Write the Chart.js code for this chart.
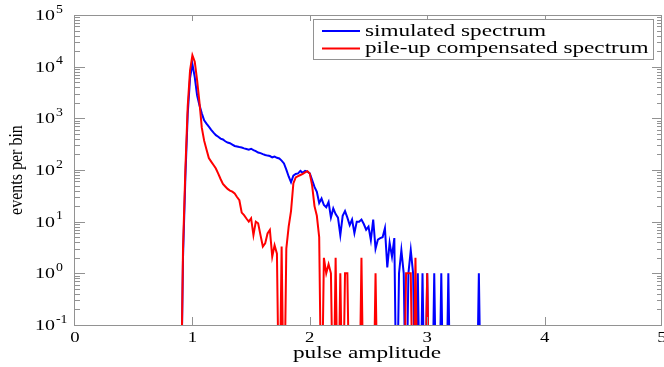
<!DOCTYPE html>
<html lang="en">
<head>
<meta charset="UTF-8">
<title>Pulse amplitude spectrum</title>
<script src="https://cdn.jsdelivr.net/npm/chart.js"></script>
<style>
  html, body { margin: 0; padding: 0; background: #fff; }
  #wrap { width: 664px; height: 367px; }
</style>
</head>
<body>
<div id="wrap"><canvas id="myChart"></canvas></div>
<script>
// bin centres (pulse amplitude)
const amplitude = [
  0.88, 0.90, 0.92, 0.94, 0.96, 0.98, 1.00, 1.02, 1.04, 1.06,
  1.08, 1.10, 1.12, 1.14, 1.16, 1.18, 1.20, 1.22, 1.24, 1.26,
  1.28, 1.30, 1.32, 1.34, 1.36, 1.38, 1.40, 1.42, 1.44, 1.46,
  1.48, 1.50, 1.52, 1.54, 1.56, 1.58, 1.60, 1.62, 1.64, 1.66,
  1.68, 1.70, 1.72, 1.74, 1.76, 1.78, 1.80, 1.82, 1.84, 1.86,
  1.88, 1.90, 1.92, 1.94, 1.96, 1.98, 2.00, 2.02, 2.04, 2.06,
  2.08, 2.10, 2.12, 2.14, 2.16, 2.18, 2.20, 2.22, 2.24, 2.26,
  2.28, 2.30, 2.32, 2.34, 2.36, 2.38, 2.40, 2.42, 2.44, 2.46,
  2.48, 2.50, 2.52, 2.54, 2.56, 2.58, 2.60, 2.62, 2.64, 2.66,
  2.68, 2.70, 2.72, 2.74, 2.76, 2.78, 2.80, 2.82, 2.84, 2.86,
  2.88, 2.90, 2.92, 2.94, 2.96, 2.98, 3.00, 3.02, 3.04, 3.06,
  3.08, 3.10, 3.12, 3.14, 3.16, 3.18, 3.20, 3.22, 3.24, 3.26,
  3.28, 3.30, 3.32, 3.34, 3.36, 3.38, 3.40, 3.42, 3.44, 3.46
];

// events per bin, simulated spectrum
const simulated = [
  0, 0, 2, 70, 1200, 6000, 11200, 6300, 2800, 1800,
  1250, 920, 790, 690, 600, 530, 473, 440, 405, 390,
  360, 340, 330, 310, 292, 285, 278, 272, 262, 255,
  248, 258, 243, 232, 218, 212, 203, 195, 190, 186,
  176, 182, 172, 167, 152, 134, 102, 75, 58, 78,
  84, 86, 96, 88, 96, 93, 86, 64, 47, 38,
  23, 28, 21, 19, 24, 12, 18, 14, 12, 5.5,
  13, 16, 12, 8.6, 11, 6, 10, 10, 11, 9,
  7, 8, 4.4, 11, 3, 4.5, 4.8, 5, 7.5, 1.3,
  3.9, 2.1, 4.8, 0, 1, 2.8, 1, 0, 1, 2.8,
  1, 0, 1, 0, 1, 0, 1, 0, 0, 1,
  0, 0, 1, 0, 0, 1, 0, 0, 0, 0,
  0, 0, 0, 0, 0, 0, 0, 0, 1, 0
];

// events per bin, pile-up compensated spectrum
const compensated = [
  0, 0, 3, 100, 1700, 8500, 16600, 12500, 5500, 2050,
  660, 370, 250, 170, 145, 125, 107, 85, 67, 54,
  48, 43, 40, 38, 35, 30, 26, 15, 13.4, 11.5,
  10, 11.6, 5.5, 10, 9.3, 5.5, 3.3, 3.8, 5.9, 6.9,
  2.1, 3.5, 2.4, 0, 3.3, 0, 3, 8, 16, 55,
  72, 76, 80, 84, 90, 95, 85, 50, 20, 13,
  5, 0, 2, 1, 1.5, 1, 0, 2, 0, 1,
  0, 1, 1, 0, 0, 0, 0, 0, 2, 0,
  0, 0, 0, 0, 1, 0, 0, 0, 0, 0,
  0, 0, 0, 0, 0, 0, 0, 1, 1, 1,
  0, 2, 0, 0, 0, 0, 1, 0, 0, 0,
  0, 0, 0, 0, 0, 0, 0, 0, 0, 0,
  0, 0, 0, 0, 0, 0, 0, 0, 0, 0
];

const seriesLabels = ['simulated spectrum', 'pile-up compensated spectrum'];
const xTicks = [0, 1, 2, 3, 4, 5];
const yTicks = [0.1, 1, 10, 100, 1000, 10000, 100000];
const yExponents = ['-1', '0', '1', '2', '3', '4', '5'];
const xTitle = 'pulse amplitude';
const yTitle = 'events per bin';

const serif = "'Liberation Serif', 'Times New Roman', serif";
const axisGrey = '#929292';
// empty bins fall off the bottom of the log axis
const emptyBin = 1e-3;

function toPoints(values) {
  return amplitude.map((a, i) => ({ x: a, y: values[i] > 0 ? values[i] : emptyBin }));
}

// the original figure has horizontally widened lettering
function wideText(ctx, text, x, y, sx, align) {
  ctx.save();
  ctx.translate(x, y);
  ctx.scale(sx, 1);
  ctx.textAlign = align || 'left';
  ctx.textBaseline = 'alphabetic';
  ctx.fillText(text, 0, 0);
  ctx.restore();
}

const framePlugin = {
  id: 'frame',
  afterDatasetsDraw(chart) {
    const ctx = chart.ctx;
    const a = chart.chartArea;
    const xs = chart.scales.x, ys = chart.scales.y;
    ctx.save();
    ctx.strokeStyle = axisGrey;
    ctx.lineWidth = 1;
    ctx.strokeRect(a.left - 0.5, a.top + 0.5, a.right - a.left, a.bottom - a.top);

    ctx.beginPath();
    // x ticks, inside, bottom and top
    xTicks.slice(1, -1).forEach(v => {
      const px = Math.round(xs.getPixelForValue(v)) + 0.5;
      ctx.moveTo(px, a.bottom); ctx.lineTo(px, a.bottom - 8);
      ctx.moveTo(px, a.top); ctx.lineTo(px, a.top + 6);
    });
    // y ticks, inside, left and right, with minor ticks
    yTicks.forEach((v, i) => {
      const py = Math.round(ys.getPixelForValue(v)) + 0.5;
      if (i > 0 && i < yTicks.length - 1) {
        ctx.moveTo(a.left, py); ctx.lineTo(a.left + 10, py);
        ctx.moveTo(a.right, py); ctx.lineTo(a.right - 10, py);
      }
      if (i < yTicks.length - 1) {
        for (let m = 2; m <= 9; m++) {
          const pm = Math.round(ys.getPixelForValue(v * m)) + 0.5;
          ctx.moveTo(a.left, pm); ctx.lineTo(a.left + 5, pm);
          ctx.moveTo(a.right, pm); ctx.lineTo(a.right - 5, pm);
        }
      }
    });
    ctx.stroke();
    ctx.restore();
  },
  afterDraw(chart) {
    const ctx = chart.ctx;
    const xs = chart.scales.x, ys = chart.scales.y;
    ctx.save();
    ctx.fillStyle = '#000';

    // x tick labels
    ctx.font = '15px ' + serif;
    xTicks.forEach(v => {
      wideText(ctx, String(v), xs.getPixelForValue(v), 342, 1.25, 'center');
    });

    // y tick labels as 10 with a raised exponent
    yTicks.forEach((v, i) => {
      const py = ys.getPixelForValue(v);
      ctx.font = '15px ' + serif;
      wideText(ctx, '10', 35, py + 5, 1.33);
      ctx.font = '12px ' + serif;
      wideText(ctx, yExponents[i], 56, py - 2.5, 1.15);
    });

    // axis titles
    ctx.font = '17px ' + serif;
    wideText(ctx, xTitle, 367, 358, 1.37, 'center');
    ctx.save();
    ctx.translate(22, 170);
    ctx.rotate(-Math.PI / 2);
    ctx.scale(1, 1.15);
    ctx.font = '16px ' + serif;
    ctx.textAlign = 'center';
    ctx.fillText(yTitle, 0, 0);
    ctx.restore();

    // legend box inside the plot
    ctx.fillStyle = '#fff';
    ctx.fillRect(313, 19, 341, 40);
    ctx.strokeStyle = axisGrey;
    ctx.lineWidth = 1;
    ctx.strokeRect(313.5, 19.5, 340, 40);
    const lineY = [31, 48.5];
    const baseY = [36, 53];
    chart.data.datasets.forEach((ds, i) => {
      ctx.strokeStyle = ds.borderColor;
      ctx.lineWidth = 2;
      ctx.beginPath();
      ctx.moveTo(322, lineY[i]);
      ctx.lineTo(360, lineY[i]);
      ctx.stroke();
      ctx.fillStyle = '#000';
      ctx.font = '16px ' + serif;
      wideText(ctx, ds.label, 365, baseY[i], 1.45);
    });
    ctx.restore();
  }
};

const ctx = document.getElementById('myChart').getContext('2d');
const chart = new Chart(ctx, {
  type: 'line',
  data: {
    datasets: [
      {
        label: seriesLabels[0],
        data: toPoints(simulated),
        borderColor: '#0000ff',
        borderWidth: 2,
        pointRadius: 0,
        tension: 0,
        order: 2
      },
      {
        label: seriesLabels[1],
        data: toPoints(compensated),
        borderColor: '#ff0000',
        borderWidth: 2,
        pointRadius: 0,
        tension: 0,
        order: 1
      }
    ]
  },
  options: {
    responsive: true,
    maintainAspectRatio: false,
    animation: false,
    layout: { padding: { left: 75, right: 2, top: 15, bottom: 42 } },
    plugins: {
      legend: { display: false },
      tooltip: { enabled: false }
    },
    scales: {
      x: {
        type: 'linear',
        min: 0,
        max: 5,
        display: false
      },
      y: {
        type: 'logarithmic',
        min: 0.1,
        max: 100000,
        display: false
      }
    }
  },
  plugins: [framePlugin]
});
</script>
</body>
</html>
